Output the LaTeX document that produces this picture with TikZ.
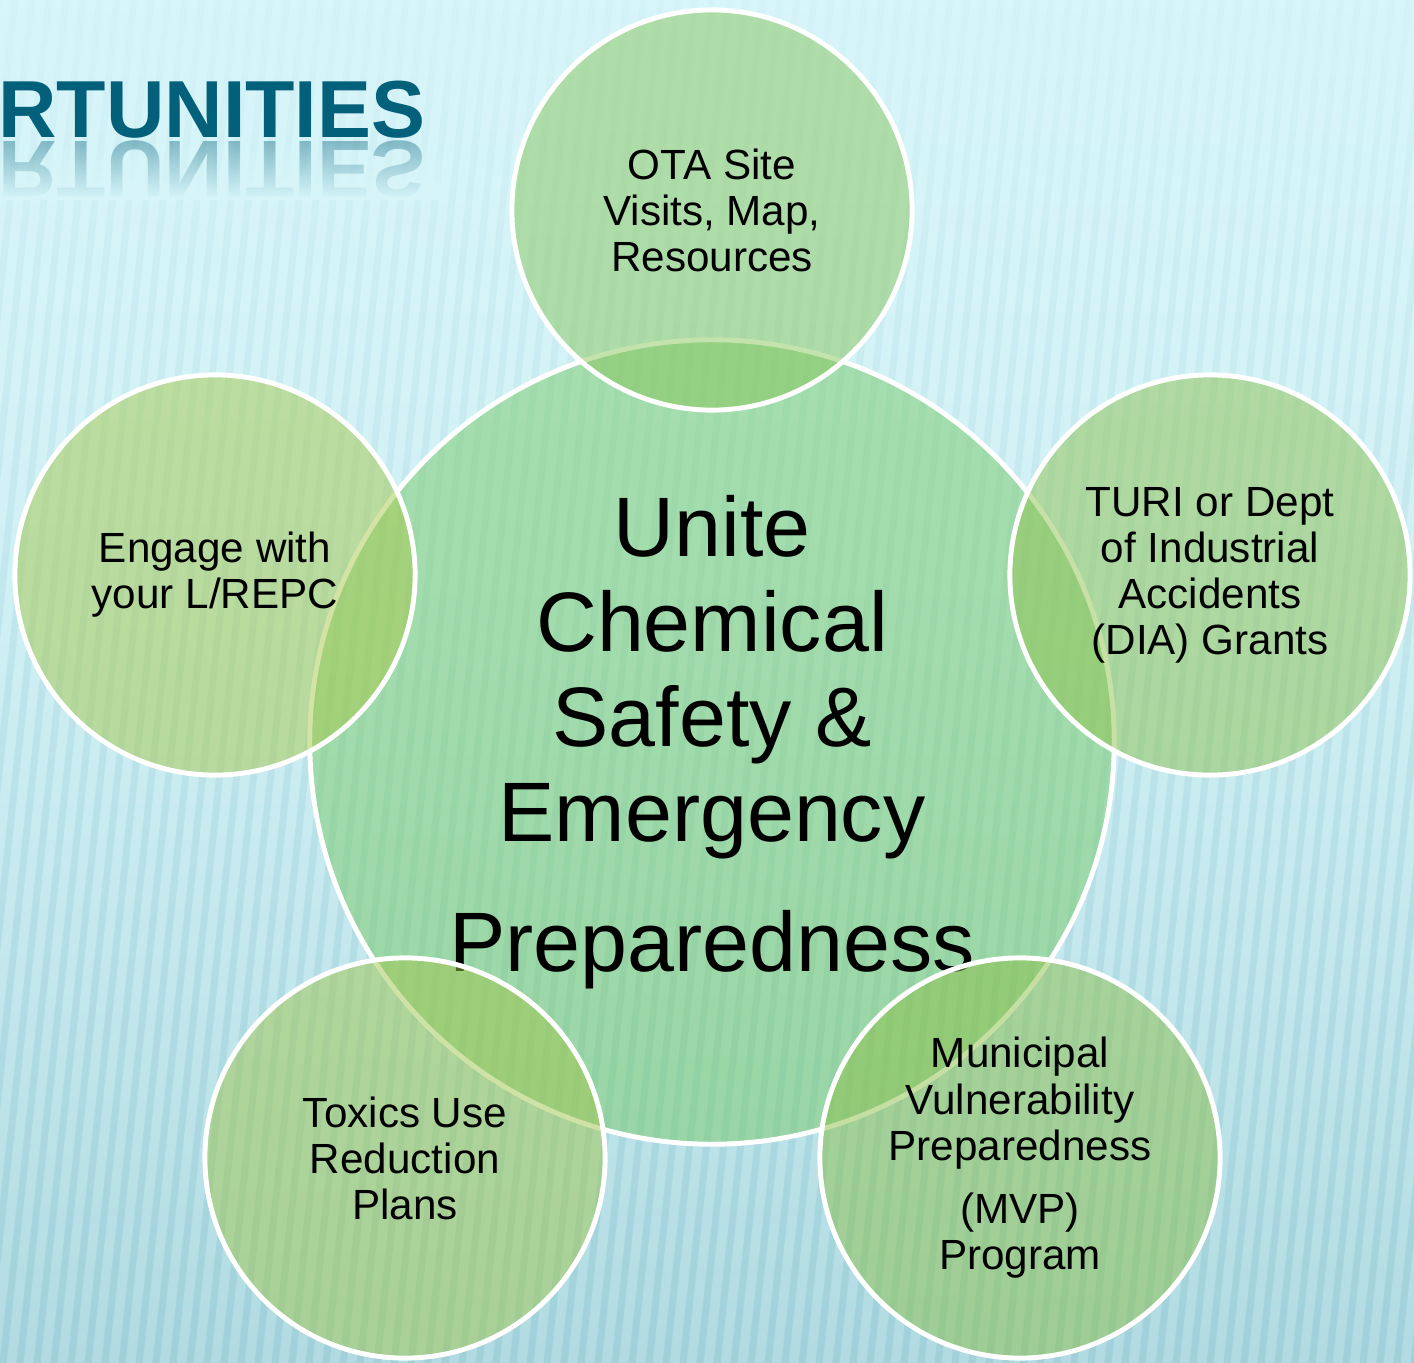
\documentclass[tikz,border=0pt]{standalone}
\usepackage{fontspec}
\setmainfont{Liberation Sans}
\usetikzlibrary{fadings}
\definecolor{bgtop}{RGB}{216,246,250}
\definecolor{bgbot}{RGB}{176,218,226}
\definecolor{stripecol}{RGB}{140,196,208}
\definecolor{titleblue}{RGB}{3,96,122}
\definecolor{centerfill}{RGB}{120,202,102}
\definecolor{otafill}{RGB}{136,198,90}
\definecolor{repcfill}{RGB}{166,200,74}
\definecolor{turifill}{RGB}{142,194,78}
\definecolor{turpfill}{RGB}{160,198,76}
\definecolor{mvpfill}{RGB}{140,192,72}
\tikzfading[name=hazefade, top color=transparent!8, bottom color=transparent!100]
\tikzfading[name=reflfade, top color=transparent!100, bottom color=transparent!0]

\begin{document}
\begin{tikzpicture}[x=0.01cm, y=0.01cm,
    bubble/.style={circle, draw=white, line width=1.4pt, fill opacity=0.5, text opacity=1,
        minimum size=4cm, inner sep=0pt, align=center, font=\fontsize{12}{13.1}\selectfont},
    hub/.style={bubble, minimum size=8.04cm, font=\fontsize{24}{27}\selectfont},
    headline/.style={anchor=base east, inner sep=0pt, text=titleblue,
        font=\fontsize{23}{23}\selectfont\bfseries}]
    \useasboundingbox (0,0) rectangle (1414,1362);
    \clip (0,0) rectangle (1414,1362);
    % background
    \fill[top color=bgtop, bottom color=bgbot] (-20,-20) rectangle (1434,1382);
    \draw[stripecol, opacity=0.45, line width=0.07cm]
        \foreach \x in {-220,-203,...,1420} {(\x,-20) -- (\x+152,1382)};
    \fill[bgtop, path fading=hazefade] (-20,-20) rectangle (1434,1420);
    % title and its reflection
    \node[headline] (title) at (426,1225) {RTUNITIES};
    \node[headline, yscale=-1, opacity=0.4] (titlerefl) at (426,1221) {RTUNITIES};
    \fill[bgtop, path fading=reflfade] (0,1222) rectangle (440,1162);
    % circles
    \node[hub, fill=centerfill] (unite) at (712,620)
        {Unite\\Chemical\\Safety \&\\Emergency\\[10pt]Preparedness};
    \node[bubble, fill=otafill] (ota) at (712,1152) {OTA Site\\Visits, Map,\\Resources};
    \node[bubble, fill=turifill] (turi) at (1210,787)
        {TURI or Dept\\of Industrial\\Accidents\\(DIA) Grants};
    \node[bubble, fill=mvpfill] (mvp) at (1020,204)
        {Municipal\\Vulnerability\\Preparedness\\[5pt](MVP)\\Program};
    \node[bubble, fill=turpfill] (turp) at (405,204) {Toxics Use\\Reduction\\Plans};
    \node[bubble, fill=repcfill] (repc) at (215,787) {Engage with\\your L/REPC};
\end{tikzpicture}
\end{document}
